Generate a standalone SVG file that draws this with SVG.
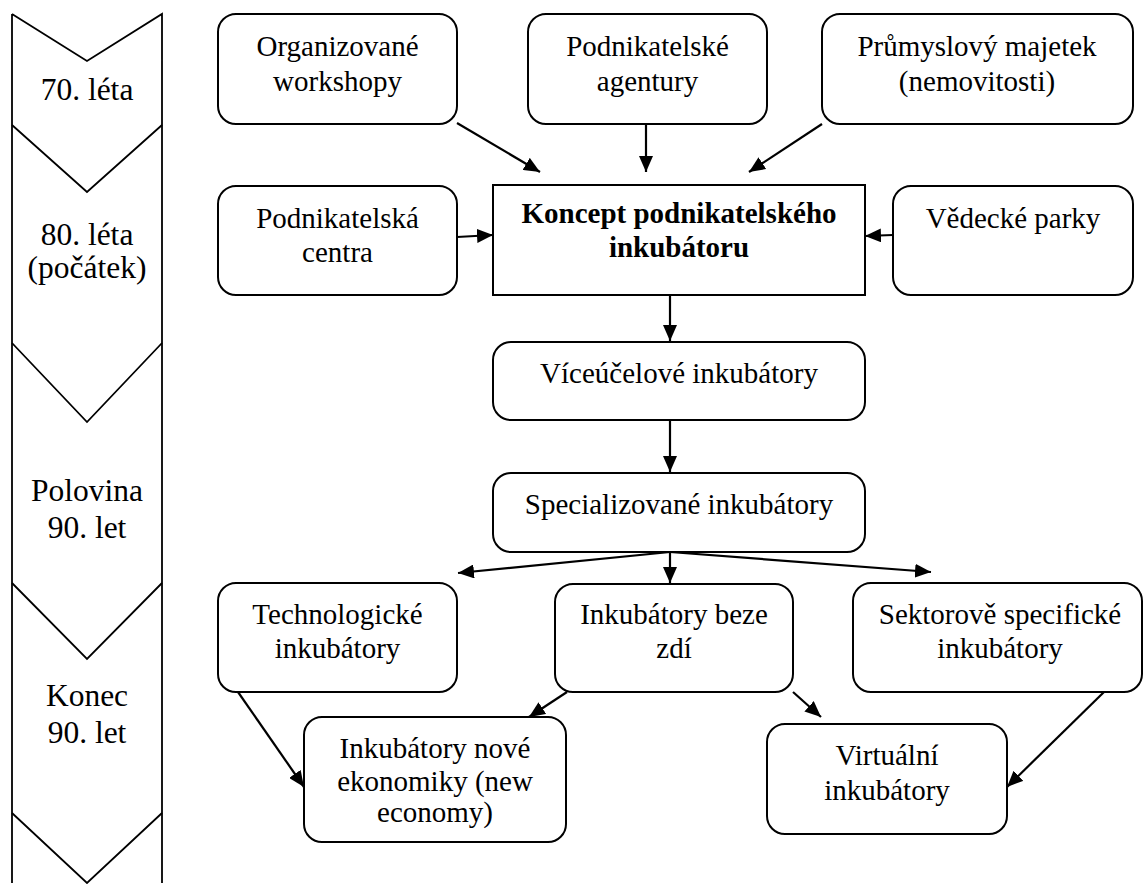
<svg xmlns="http://www.w3.org/2000/svg" width="1144" height="884" viewBox="0 0 1144 884">
  <style>
    .box { fill: #fff; stroke: #000; stroke-width: 2; }
    .t { font-family: "Liberation Serif", "Times New Roman", serif; font-size: 29px; fill: #000; text-anchor: middle; }
    .tb { font-weight: bold; }
    .era { font-family: "Liberation Serif", "Times New Roman", serif; font-size: 31.5px; fill: #000; text-anchor: middle; }
    .chev { fill: none; stroke: #000; stroke-width: 1.8; stroke-linejoin: miter; }
    .edge { fill: none; stroke: #000; stroke-width: 2.2; marker-end: url(#arrow); }
  </style>
  <defs>
    <marker id="arrow" markerUnits="userSpaceOnUse" markerWidth="16" markerHeight="14" refX="16" refY="7" orient="auto">
      <path d="M0,0 L16,7 L0,14 z" fill="#000"/>
    </marker>
  </defs>
  <rect width="1144" height="884" fill="#fff"/>

  <!-- Timeline: stacked chevrons -->
  <g id="timeline">
    <path class="chev" d="M12,14 L87,61 L162,14 L162,883 M12,14 L12,883"/>
    <path class="chev" d="M12,125 L87,192 L162,125"/>
    <path class="chev" d="M12,343 L87,422 L162,343"/>
    <path class="chev" d="M12,583 L87,659 L162,583"/>
    <path class="chev" d="M12,813 L87,883 L162,813"/>
    <text class="era" x="87" y="100">70. léta</text>
    <text class="era" x="87" y="245">80. léta</text>
    <text class="era" x="87" y="278">(počátek)</text>
    <text class="era" x="87" y="501">Polovina</text>
    <text class="era" x="87" y="538">90. let</text>
    <text class="era" x="87" y="706">Konec</text>
    <text class="era" x="87" y="743">90. let</text>
  </g>

  <!-- Connectors -->
  <g id="connectors">
    <line class="edge" x1="457" y1="123" x2="540" y2="172"/>
    <line class="edge" x1="646" y1="124" x2="646" y2="172"/>
    <line class="edge" x1="822" y1="124" x2="749" y2="172"/>
    <line class="edge" x1="457" y1="237" x2="493" y2="235"/>
    <line class="edge" x1="893" y1="235" x2="865" y2="236"/>
    <line class="edge" x1="670" y1="295" x2="670" y2="341"/>
    <line class="edge" x1="670" y1="420" x2="670" y2="472"/>
    <line class="edge" x1="670" y1="552" x2="458" y2="573"/>
    <line class="edge" x1="670" y1="552" x2="670" y2="583"/>
    <line class="edge" x1="670" y1="552" x2="931" y2="572"/>
    <line class="edge" x1="567" y1="692" x2="529" y2="717"/>
    <line class="edge" x1="793" y1="692" x2="821" y2="717"/>
    <line class="edge" x1="238" y1="692" x2="304" y2="787"/>
    <line class="edge" x1="1104" y1="692" x2="1007" y2="787"/>
  </g>

  <g id="n-workshopy">
    <rect class="box" x="218" y="14" width="239" height="110" rx="18"/>
    <text class="t" x="337.5" y="56">Organizované</text>
    <text class="t" x="337.5" y="91">workshopy</text>
  </g>
  <g id="n-agentury">
    <rect class="box" x="528" y="14" width="239" height="110" rx="18"/>
    <text class="t" x="647.5" y="56">Podnikatelské</text>
    <text class="t" x="647.5" y="91">agentury</text>
  </g>
  <g id="n-majetek">
    <rect class="box" x="822" y="14" width="311" height="110" rx="18"/>
    <text class="t" x="977" y="56">Průmyslový majetek</text>
    <text class="t" x="977" y="91">(nemovitosti)</text>
  </g>
  <g id="n-centra">
    <rect class="box" x="218" y="186" width="239" height="109" rx="18"/>
    <text class="t" x="337.5" y="228">Podnikatelská</text>
    <text class="t" x="337.5" y="262">centra</text>
  </g>
  <g id="n-koncept">
    <rect class="box" x="493" y="185" width="372" height="110"/>
    <text class="t tb" x="679" y="223">Koncept podnikatelského</text>
    <text class="t tb" x="679" y="257">inkubátoru</text>
  </g>
  <g id="n-parky">
    <rect class="box" x="893" y="186" width="240" height="109" rx="18"/>
    <text class="t" x="1013" y="228">Vědecké parky</text>
  </g>
  <g id="n-viceucelove">
    <rect class="box" x="493" y="342" width="372" height="78" rx="18"/>
    <text class="t" x="679" y="383">Víceúčelové inkubátory</text>
  </g>
  <g id="n-specializovane">
    <rect class="box" x="493" y="473" width="372" height="79" rx="18"/>
    <text class="t" x="679" y="514">Specializované inkubátory</text>
  </g>
  <g id="n-technologicke">
    <rect class="box" x="218" y="583" width="239" height="109" rx="18"/>
    <text class="t" x="337.5" y="624">Technologické</text>
    <text class="t" x="337.5" y="658">inkubátory</text>
  </g>
  <g id="n-bezezdi">
    <rect class="box" x="555" y="584" width="238" height="108" rx="18"/>
    <text class="t" x="674" y="624">Inkubátory beze</text>
    <text class="t" x="674" y="658">zdí</text>
  </g>
  <g id="n-sektorove">
    <rect class="box" x="853" y="583" width="289" height="109" rx="18"/>
    <text class="t" x="1000" y="624">Sektorově specifické</text>
    <text class="t" x="1000" y="658">inkubátory</text>
  </g>
  <g id="n-novaekonomika">
    <rect class="box" x="304" y="717" width="262" height="125" rx="18"/>
    <text class="t" x="435" y="758">Inkubátory nové</text>
    <text class="t" x="435" y="791">ekonomiky (new</text>
    <text class="t" x="435" y="822">economy)</text>
  </g>
  <g id="n-virtualni">
    <rect class="box" x="767" y="724" width="240" height="110" rx="18"/>
    <text class="t" x="887" y="765">Virtuální</text>
    <text class="t" x="887" y="800">inkubátory</text>
  </g>
</svg>
